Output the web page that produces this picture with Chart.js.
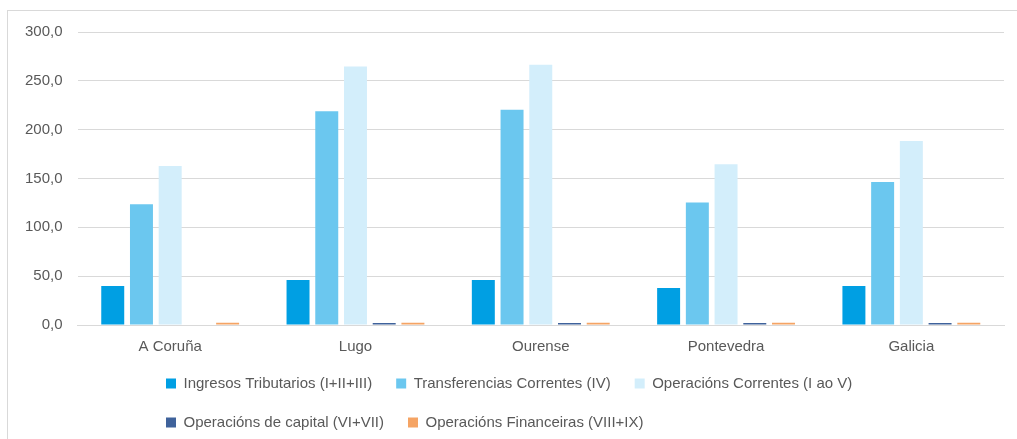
<!DOCTYPE html>
<html>
<head>
<meta charset="utf-8">
<style>
  html, body { margin: 0; padding: 0; background: #fff; overflow: hidden; }
  .frame { position: absolute; left: 7px; top: 10px; width: 1100px; height: 500px; border: 1px solid #d9d9d9; }
  .graph { position: absolute; left: 0; top: 0; width: 1017px; height: 439px; }
</style>
</head>
<body>
<div class="frame"></div>
<div class="graph"><canvas id="chartIngresos"></canvas></div>
<script src="https://cdn.jsdelivr.net/npm/chart.js@4/dist/chart.umd.min.js"></script>
<script>
   const categories = ['A Coruña', 'Lugo', 'Ourense', 'Pontevedra', 'Galicia'];
   const ingresosTributarios = [39.9, 46.1, 46.0, 37.9, 40.0];
   const transferencias = [123.7, 218.9, 220.3, 125.3, 146.5];
   const operacionsCorrentes = [162.9, 264.6, 266.4, 164.6, 188.5];
   const operacionsCapital = [0, 2.0, 2.0, 2.0, 2.0];
   const operacionsFinanceiras = [2.2, 2.2, 2.2, 2.2, 2.2];
   const yTicks = [0, 50, 100, 150, 200, 250, 300];

   const fontFamily = "'Liberation Sans', Arial, sans-serif";
   const textColor = '#595959';

   // Excel-style legend: three items on the first row, rest below, left aligned
   const legendRows = {
       id: 'legendRows',
       beforeLayout(chart) {
           const lg = chart.legend;
           if (!lg || lg._patched) return;
           const origFit = lg.fit.bind(lg);
           lg.fit = function() {
               const mw = this.maxWidth;
               this.maxWidth = 800;
               origFit();
               this.maxWidth = mw;
               this.width = mw;
               this._realHeight = this.height;
               this.height = 70;
           };
           lg._patched = true;
       },
       afterLayout(chart) {
           const lg = chart.legend;
           lg.left = 142;
           lg.right = 142 + 760;
           lg.top = 352;
           lg.bottom = 352 + (lg._realHeight || 88);
       }
   };

   const ctx = document.getElementById('chartIngresos');
   new Chart(ctx, {
       type: 'bar',
       data: {
           labels: categories,
           datasets: [
               { label: 'Ingresos Tributarios (I+II+III)', data: ingresosTributarios, backgroundColor: '#009fe3' },
               { label: 'Transferencias Correntes (IV)', data: transferencias, backgroundColor: '#6bc7ef' },
               { label: 'Operacións Correntes (I ao V)', data: operacionsCorrentes, backgroundColor: '#d3eefb' },
               { label: 'Operacións de capital (VI+VII)', data: operacionsCapital, backgroundColor: '#3f629b' },
               { label: 'Operacións Financeiras (VIII+IX)', data: operacionsFinanceiras, backgroundColor: '#f5a464' }
           ]
       },
       options: {
           responsive: true,
           maintainAspectRatio: false,
           animation: false,
           datasets: { bar: { categoryPercentage: 0.775, barPercentage: 0.8 } },
           layout: { padding: { top: 32, left: 10, right: 13, bottom: 0 } },
           scales: {
               x: {
                   grid: { display: false, drawTicks: false },
                   border: { color: '#d9d9d9', width: 1 },
                   ticks: { color: textColor, font: { family: fontFamily, size: 15 }, padding: 13 }
               },
               y: {
                   min: 0,
                   max: 300,
                   afterBuildTicks: axis => { axis.ticks = yTicks.map(v => ({ value: v })); },
                   grid: { color: '#d9d9d9', lineWidth: 1, drawTicks: false },
                   border: { display: false },
                   ticks: {
                       color: textColor,
                       font: { family: fontFamily, size: 15 },
                       padding: 15,
                       callback: v => v.toFixed(1).replace('.', ',')
                   }
               }
           },
           plugins: {
               legend: {
                   position: 'bottom',
                   align: 'start',
                   labels: {
                       color: textColor,
                       font: { family: fontFamily, size: 15 },
                       boxWidth: 10,
                       boxHeight: 10,
                       padding: 24
                   }
               },
               tooltip: { enabled: false }
           }
       },
       plugins: [legendRows]
   });
</script>
</body>
</html>
